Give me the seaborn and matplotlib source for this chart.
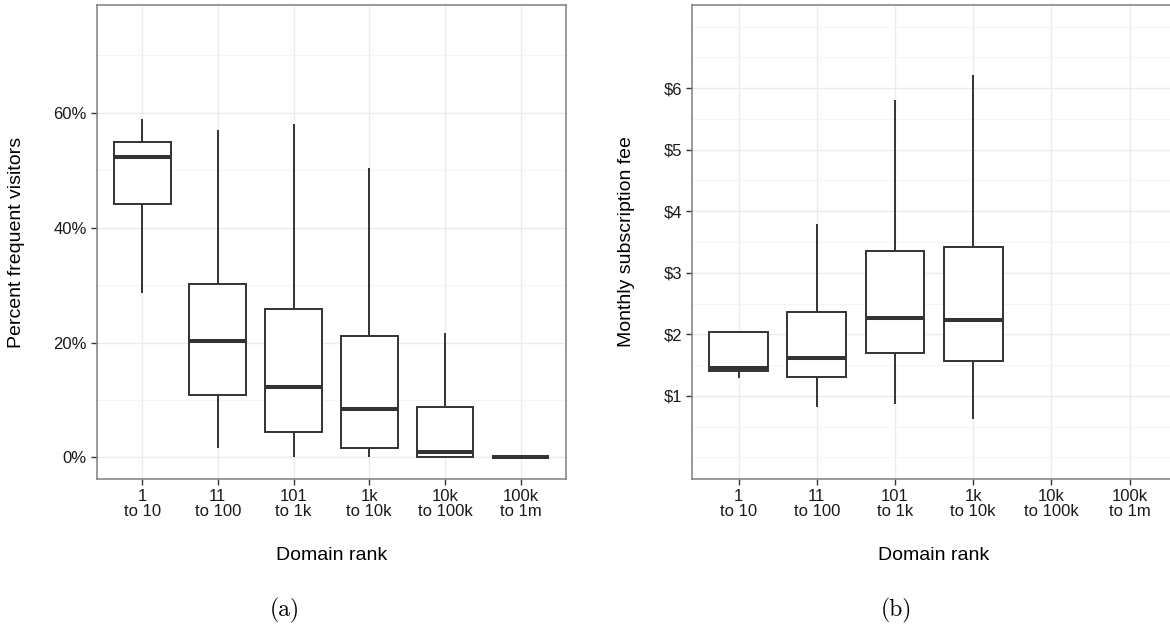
import numpy as np
import pandas as pd
import matplotlib.pyplot as plt
import seaborn as sns
from matplotlib.ticker import FuncFormatter, MultipleLocator

# categories (domain rank buckets)
ranks = ['1\nto 10', '11\nto 100', '101\nto 1k', '1k\nto 10k', '10k\nto 100k', '100k\nto 1m']

# (a) percent frequent visitors: five-number summaries
visitors_min = [28.7, 1.6, 0.0, 0.0, 0.0, 0.0]
visitors_q1 = [44.1, 10.8, 4.4, 1.7, 0.0, 0.0]
visitors_med = [52.3, 20.2, 12.3, 8.35, 1.0, 0.0]
visitors_q3 = [54.9, 30.2, 25.9, 21.2, 8.8, 0.0]
visitors_max = [58.9, 57.0, 58.0, 50.3, 21.7, 0.0]

# (b) monthly subscription fee, only the first four buckets have data
fee_ranks = ranks[:4]
fee_min = [1.29, 0.82, 0.87, 0.63]
fee_q1 = [1.40, 1.30, 1.69, 1.56]
fee_med = [1.46, 1.61, 2.27, 2.23]
fee_q3 = [2.04, 2.37, 3.35, 3.42]
fee_max = [2.04, 3.80, 5.81, 6.22]


def five_num_frame(cats, mins, q1s, meds, q3s, maxs):
    # five points per group -> linear percentiles give exactly q1/median/q3
    rows = []
    for c, a, b, m, d, e in zip(cats, mins, q1s, meds, q3s, maxs):
        for v in (a, b, m, d, e):
            rows.append({'rank': c, 'value': v})
    return pd.DataFrame(rows)


df_vis = five_num_frame(ranks, visitors_min, visitors_q1, visitors_med, visitors_q3, visitors_max)
df_fee = five_num_frame(fee_ranks, fee_min, fee_q1, fee_med, fee_q3, fee_max)

sns.set_theme(style='white')
plt.rcParams['font.family'] = ['Liberation Sans', 'DejaVu Sans']

dpi = 100
fig = plt.figure(figsize=(1170 / dpi, 625 / dpi), dpi=dpi)
fig.patch.set_facecolor('white')

ax1 = fig.add_axes([96.7 / 1170, 146 / 625, 469.3 / 1170, 474 / 625])
ax2 = fig.add_axes([691.7 / 1170, 146 / 625, 484.8 / 1170, 474 / 625])

line_col = '#333333'
box_kw = dict(x='rank', y='value', order=ranks, color='white', linecolor=line_col,
              saturation=1, linewidth=1.4, width=0.75, whis=(0, 100),
              showcaps=False, fliersize=0, medianprops={'linewidth': 2.9})

sns.boxplot(data=df_vis, ax=ax1, **box_kw)
sns.boxplot(data=df_fee, ax=ax2, **box_kw)

ax1.set_ylim(-3.75, 78.75)
ax1.yaxis.set_major_locator(MultipleLocator(20))
ax1.yaxis.set_minor_locator(MultipleLocator(10))
ax1.yaxis.set_major_formatter(FuncFormatter(lambda v, p: f'{v:.0f}%'))

ax2.set_ylim(-0.35, 7.35)
ax2.set_yticks([1, 2, 3, 4, 5, 6])
ax2.yaxis.set_minor_locator(MultipleLocator(0.5))
ax2.yaxis.set_major_formatter(FuncFormatter(lambda v, p: f'${v:.0f}'))

for ax in (ax1, ax2):
    ax.set_xlim(-0.6, 5.6)
    ax.set_axisbelow(True)
    ax.grid(which='major', color='#EBEBEB', linewidth=1.0)
    ax.grid(which='minor', axis='y', color='#F4F4F4', linewidth=0.7)
    for s in ax.spines.values():
        s.set(edgecolor='#7F7F7F', linewidth=1.1)
    ax.tick_params(which='major', length=4.5, width=1.0, color=line_col,
                   labelsize=12, labelcolor='#1A1A1A', pad=2.5,
                   bottom=True, left=True)
    ax.tick_params(which='minor', length=0)
    for t in ax.get_xticklabels():
        t.set_linespacing(1.0)
    ax.set_xlabel('')
    ax.set_ylabel('')

# axis titles
fig.text(17 / 1170, 1 - 242 / 625, 'Percent frequent visitors', rotation=90,
         ha='center', va='center', fontsize=14, color='black')
fig.text(626.7 / 1170, 1 - 242 / 625, 'Monthly subscription fee', rotation=90,
         ha='center', va='center', fontsize=14, color='black')
fig.text(331.3 / 1170, 1 - 555 / 625, 'Domain rank', ha='center', va='center',
         fontsize=14, color='black')
fig.text(934 / 1170, 1 - 555 / 625, 'Domain rank', ha='center', va='center',
         fontsize=14, color='black')

# subfigure captions
fig.text(285 / 1170, 1 - 610 / 625, '(a)', ha='center', va='center',
         fontsize=17, family='cmr10', color='black')
fig.text(896 / 1170, 1 - 610 / 625, '(b)', ha='center', va='center',
         fontsize=17, family='cmr10', color='black')

fig.savefig('out.png', dpi=dpi)
